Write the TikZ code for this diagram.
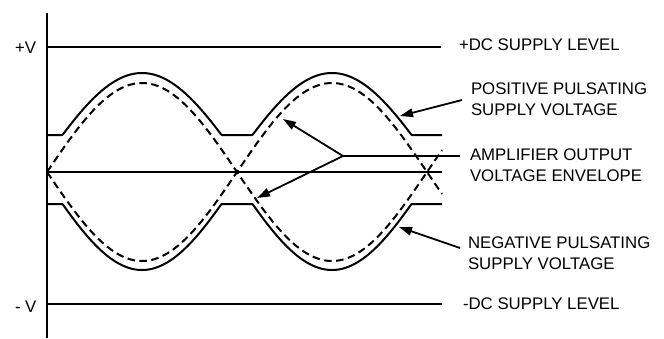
\documentclass[tikz,border=0pt]{standalone}
\usepackage{fontspec}
\setmainfont{Liberation Sans}
\usetikzlibrary{arrows.meta}
\begin{document}
\begin{tikzpicture}[x=1pt,y=-1pt, line width=2pt,
  lbl/.style={inner sep=0pt, anchor=north west, align=left,
              font=\fontsize{16.8}{20.5}\selectfont},
  env/.style={dash pattern=on 7.5pt off 4.5pt},
  supply/.style={line join=round},
  ptr/.style={-{Triangle[length=13pt,width=8.5pt]}, line width=1.8pt}]
\useasboundingbox (0,0) rectangle (664,338);

% axis
\coordinate (axtop) at (47,13);
\coordinate (axbot) at (47,338);
\draw (axtop) -- (axbot);

% DC supply levels and centre line
\coordinate (pvl) at (47,47);
\coordinate (pvr) at (441,47);
\coordinate (nvl) at (47,304);
\coordinate (nvr) at (442,304);
\coordinate (cl) at (47,172);
\coordinate (cr) at (442,172);
\draw (pvl) -- (pvr);
\draw (nvl) -- (nvr);
\draw (cl) -- (cr);

% amplifier output envelope (dashed)
\draw[env] plot[domain=47:442, samples=396] (\x,{172-89*sin((\x-47)*0.947368)});
\draw[env] plot[domain=47:442, samples=396] (\x,{172+89*sin((\x-47)*0.947368)});

% pulsating supply voltages
\draw[supply] plot[domain=47:442, samples=396]
  (\x,{172-max(37,16+83*abs(sin((\x-47)*0.947368)))});
\draw[supply] plot[domain=47:442, samples=396]
  (\x,{172+max(32,9.5+88.5*abs(sin((\x-47)*0.947368)))});

% labels
\node[lbl] (pv) at (14,40.5) {+V};
\node[lbl] (nv) at (14,300) {- V};
\node[lbl] (pdc) at (458,38) {+DC SUPPLY LEVEL};
\node[lbl] (pps) at (470,82) {POSITIVE PULSATING\\SUPPLY VOLTAGE};
\node[lbl] (amp) at (469,148) {AMPLIFIER OUTPUT\\VOLTAGE ENVELOPE};
\node[lbl] (nps) at (467,236) {NEGATIVE PULSATING\\SUPPLY VOLTAGE};
\node[lbl] (ndc) at (462,297) {-DC SUPPLY LEVEL};

% pointers
\coordinate (ppsS) at (462,100);
\coordinate (ppsT) at (400,116);
\coordinate (npsS) at (460,248);
\coordinate (npsT) at (399,227);
\coordinate (ampE) at (460,156);
\coordinate (ampJ) at (343,156);
\coordinate (ampT1) at (283,119);
\coordinate (ampT2) at (257,198);
\draw[ptr] (ppsS) -- (ppsT);
\draw[ptr] (npsS) -- (npsT);
\draw[line width=1.8pt] (ampE) -- (ampJ);
\draw[ptr] (ampJ) -- (ampT1);
\draw[ptr] (ampJ) -- (ampT2);
\end{tikzpicture}
\end{document}
